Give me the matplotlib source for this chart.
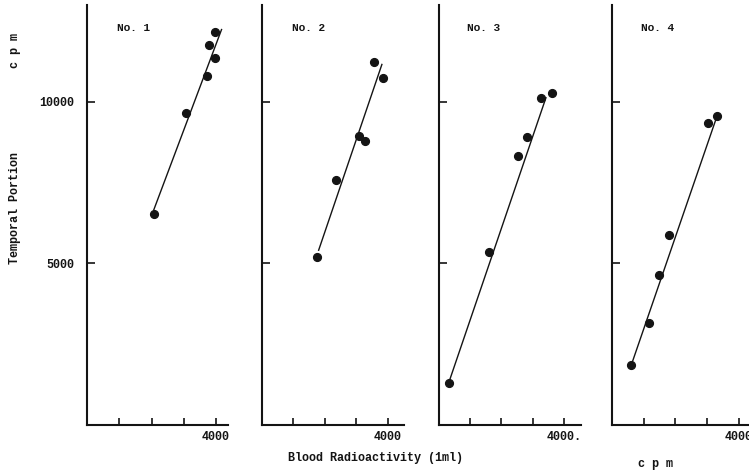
# Four-panel scatter: temporal portion cpm vs blood radioactivity (1 ml), with fitted lines.
import matplotlib
matplotlib.use('Agg')
import matplotlib.pyplot as plt

# ---------------------------------------------------------------- data
panel_names = ["No. 1", "No. 2", "No. 3", "No. 4"]

blood_1 = [2070, 3055, 3715, 3780, 3970, 3965]
temp_1 = [6540, 9650, 10800, 11760, 11350, 12170]
blood_2 = [1740, 2350, 3090, 3260, 3550, 3840]
temp_2 = [5190, 7590, 8930, 8800, 11240, 10730]
blood_3 = [330, 1610, 2520, 2810, 3260, 3615]
temp_3 = [1290, 5350, 8340, 8900, 10130, 10270]
blood_4 = [610, 1170, 1480, 1810, 3030, 3300]
temp_4 = [1860, 3170, 4650, 5890, 9340, 9560]

# drawn regression lines: (x start, x end), (y start, y end)
fit_x = [(2070, 4170), (1800, 3810), (330, 3420), (610, 3335)]
fit_y = [(6660, 12240), (5410, 11160), (1320, 10130), (1860, 9620)]

x_ticks = [1000, 2000, 3000, 4000]
x_ticklabels = [["", "", "", "4000"], ["", "", "", "4000"],
                ["", "", "", "4000."], ["", "", "", "4000"]]
y_ticks = [5000, 10000]
y_ticklabels = ["5000", "10000"]

xs = [blood_1, blood_2, blood_3, blood_4]
ys = [temp_1, temp_2, temp_3, temp_4]

# ---------------------------------------------------------------- style
FONT = "Liberation Mono"
INK = "#141414"
plt.rcParams.update({"font.family": FONT, "font.weight": "bold",
                     "text.color": INK, "axes.edgecolor": INK,
                     "xtick.color": INK, "ytick.color": INK})

W, H = 749, 472
fig = plt.figure(figsize=(W / 100, H / 100), dpi=100)
fig.patch.set_facecolor("white")

# panel geometry in pixels: left edge, width, x max
lefts = [87, 262, 438.5, 612]
widths = [141, 141.6, 142, 142.6]
xmaxs = [4370, 4500, 4520, 4500]
y_top_px, y_bot_px = 5, 425

for i in range(4):
    ax = fig.add_axes([lefts[i] / W, (H - y_bot_px) / H,
                       widths[i] / W, (y_bot_px - y_top_px) / H])
    ax.set_xlim(0, xmaxs[i]); ax.set_ylim(0, 13000)
    ax.patch.set_alpha(0)
    for s in ("top", "right"):
        ax.spines[s].set_visible(False)
    for s in ("left", "bottom"):
        ax.spines[s].set_linewidth(1.5)
    ax.plot(fit_x[i], fit_y[i], color=INK, lw=1.0)
    ax.plot(xs[i], ys[i], "o", color=INK, ms=5.6, mec=INK)
    ax.set_xticks(x_ticks)
    ax.set_xticklabels(x_ticklabels[i], fontsize=8.5)
    ax.set_yticks(y_ticks)
    ax.set_yticklabels(y_ticklabels if i == 0 else ["", ""], fontsize=8.5)
    ax.tick_params(axis="x", direction="in", length=5, width=1.2, pad=4)
    ax.tick_params(axis="y", direction="in", length=6, width=1.2, pad=9)
    ax.text(0.21 if i < 2 else 0.2, 0.945, panel_names[i], transform=ax.transAxes,
            fontsize=8, ha="left", va="center")

fig.text(15 / W, 1 - 208 / H, "Temporal Portion", rotation=90, fontsize=8.5,
         ha="center", va="center")
fig.text(15 / W, 1 - 50 / H, "c p m", rotation=90, fontsize=8.5,
         ha="center", va="center")
fig.text(375 / W, 1 - 458 / H, "Blood Radioactivity (1ml)", fontsize=8.5,
         ha="center", va="center")
fig.text(655 / W, 1 - 464 / H, "c p m", fontsize=8.5, ha="center", va="center")

fig.savefig("out.png", dpi=100)
